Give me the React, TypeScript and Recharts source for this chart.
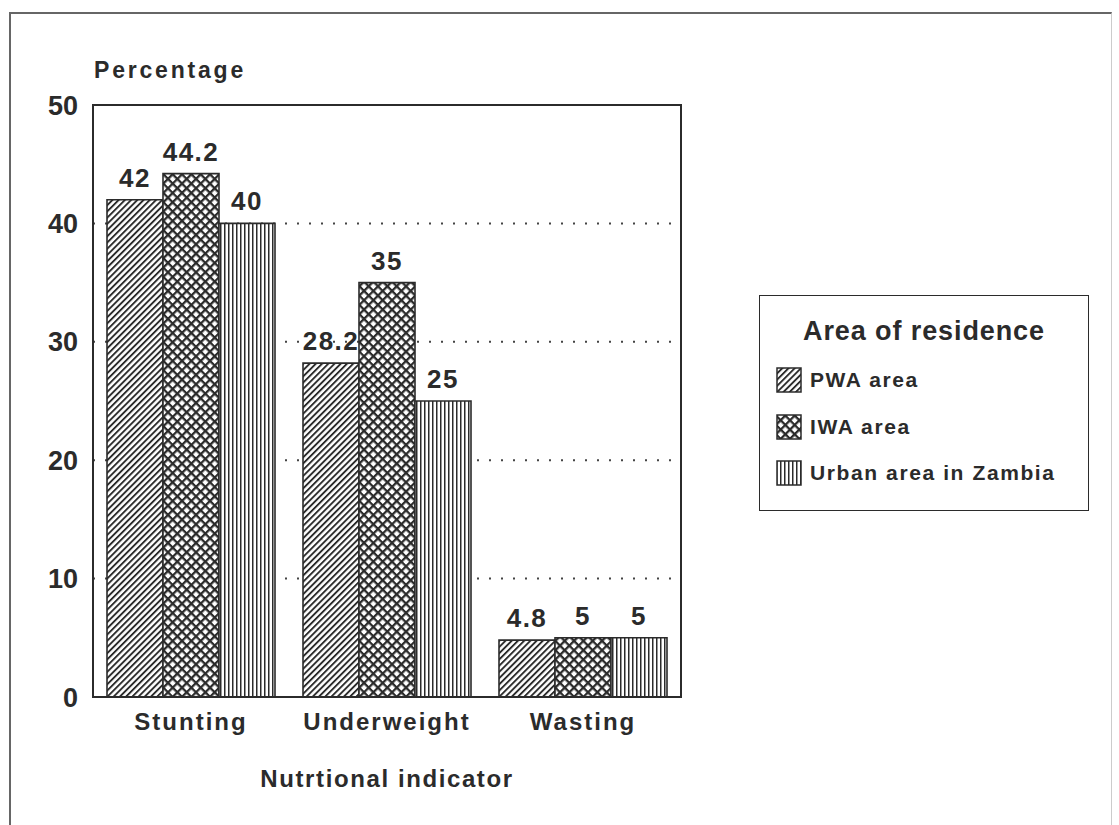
import React from "react";
import { BarChart, Bar, XAxis, YAxis, CartesianGrid, LabelList, ReferenceArea } from "recharts";

const categories = ["Stunting", "Underweight", "Wasting"];
const pwaValues = [42, 28.2, 4.8];
const iwaValues = [44.2, 35, 5];
const urbanValues = [40, 25, 5];
const yTicks = [0, 10, 20, 30, 40, 50];

const seriesNames = ["PWA area", "IWA area", "Urban area in Zambia"];
const patternIds = ["pwaHatch", "iwaCross", "urbanVert"];

const data = categories.map((name, i) => ({
  name,
  pwa: pwaValues[i],
  iwa: iwaValues[i],
  urban: urbanValues[i]
}));

const INK = "#2b2b2b";
const FONT = "'Liberation Sans', Arial, Helvetica, sans-serif";

const Patterns = ({ suffix = "" }: { suffix?: string }) => (
  <defs>
    <pattern
      id={`pwaHatch${suffix}`}
      patternUnits="userSpaceOnUse"
      width={4.4}
      height={4.4}
      patternTransform="rotate(45)"
    >
      <rect width={4.4} height={4.4} fill="#fff" />
      <rect x={0} y={0} width={1.9} height={4.4} fill={INK} />
    </pattern>
    <pattern
      id={`iwaCross${suffix}`}
      patternUnits="userSpaceOnUse"
      width={6.6}
      height={6.6}
      patternTransform="rotate(45)"
    >
      <rect width={6.6} height={6.6} fill="#fff" />
      <rect x={0} y={0} width={2.3} height={6.6} fill={INK} />
      <rect x={0} y={0} width={6.6} height={2.3} fill={INK} />
    </pattern>
    <pattern id={`urbanVert${suffix}`} patternUnits="userSpaceOnUse" width={4} height={4}>
      <rect width={4} height={4} fill="#fff" />
      <rect x={0} y={0} width={1.5} height={4} fill={INK} />
    </pattern>
  </defs>
);

const LegendBox = () => (
  <div
    style={{
      position: "absolute",
      left: 759,
      top: 295,
      width: 330,
      height: 216,
      border: `1.5px solid ${INK}`,
      background: "#fff",
      fontFamily: FONT,
      color: INK,
      boxSizing: "border-box"
    }}
  >
    <div
      style={{
        position: "absolute",
        top: 20,
        left: 0,
        width: "100%",
        textAlign: "center",
        fontWeight: "bold",
        fontSize: 27,
        letterSpacing: 0.9
      }}
    >
      Area of residence
    </div>
    {seriesNames.map((n, i) => (
      <div
        key={n}
        style={{
          position: "absolute",
          left: 16,
          top: 71 + i * 46.5,
          display: "flex",
          alignItems: "center",
          fontWeight: "bold",
          fontSize: 21,
          letterSpacing: 1.6
        }}
      >
        <svg width={26} height={26} style={{ marginRight: 8 }}>
          <Patterns suffix={`L${i}`} />
          <rect
            x={1}
            y={1}
            width={24}
            height={24}
            fill={`url(#${patternIds[i]}L${i})`}
            stroke={INK}
            strokeWidth={1.5}
          />
        </svg>
        {n}
      </div>
    ))}
  </div>
);

export default function App() {
  return (
    <div
      style={{
        position: "absolute",
        left: 0,
        top: 0,
        width: 1119,
        height: 825,
        background: "#fff",
        overflow: "hidden",
        fontFamily: FONT
      }}
    >
      <div
        style={{
          position: "absolute",
          left: 9,
          top: 12,
          width: 1103,
          height: 840,
          borderLeft: "2px solid #666",
          borderTop: "2px solid #666",
          borderRight: "1px solid #ccc",
          boxSizing: "border-box"
        }}
      />
      <div
        style={{
          position: "absolute",
          left: 94,
          top: 57,
          fontWeight: "bold",
          fontSize: 23,
          letterSpacing: 2.8,
          color: INK
        }}
      >
        Percentage
      </div>
      <div style={{ position: "absolute", left: 0, top: 0 }}>
        <BarChart
          width={1119}
          height={825}
          data={data}
          margin={{ top: 105, right: 438, bottom: 33, left: 23 }}
          barCategoryGap={14}
          barGap={0}
        >
          <Patterns />
          <CartesianGrid
            vertical={false}
            stroke="#444"
            strokeWidth={2}
            strokeDasharray="2 10"
          />
          <XAxis
            dataKey="name"
            axisLine={{ stroke: INK, strokeWidth: 2 }}
            tickLine={false}
            tickMargin={10}
            height={95}
            interval={0}
            tick={{
              fill: INK,
              fontSize: 24,
              fontWeight: "bold",
              fontFamily: FONT,
              letterSpacing: 2
            }}
            label={{
              value: "Nutrtional indicator",
              position: "insideBottom",
              offset: 5,
              fill: INK,
              fontSize: 24,
              fontWeight: "bold",
              fontFamily: FONT,
              letterSpacing: 1.6
            }}
          />
          <YAxis
            domain={[0, 50]}
            ticks={yTicks}
            width={70}
            axisLine={{ stroke: INK, strokeWidth: 2 }}
            tickLine={false}
            tickMargin={9}
            tick={{ fill: INK, fontSize: 27, fontWeight: "bold", fontFamily: FONT }}
          />
          <ReferenceArea
            y1={0}
            y2={50}
            fill="none"
            stroke={INK}
            strokeWidth={2}
            ifOverflow="visible"
          />
          {(["pwa", "iwa", "urban"] as const).map((key, i) => (
            <Bar
              key={key}
              dataKey={key}
              name={seriesNames[i]}
              fill={`url(#${patternIds[i]})`}
              stroke={INK}
              strokeWidth={1.6}
              isAnimationActive={false}
            >
              <LabelList
                dataKey={key}
                position="top"
                offset={13}
                fill={INK}
                fontSize={26}
                fontWeight="bold"
                fontFamily={FONT}
                letterSpacing={1.5}
              />
            </Bar>
          ))}
        </BarChart>
      </div>
      <LegendBox />
    </div>
  );
}
